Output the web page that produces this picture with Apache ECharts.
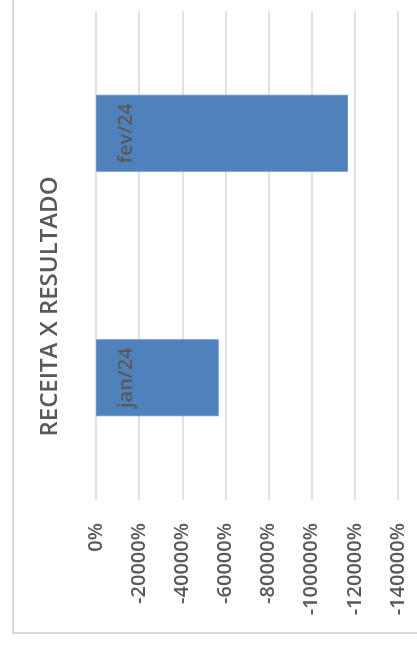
<!DOCTYPE html>
<html>
<head>
<meta charset="utf-8">
<script src="https://cdn.jsdelivr.net/npm/echarts@6/dist/echarts.min.js"></script>
<style>
html,body{margin:0;padding:0;background:#fff;}
#c{width:417px;height:647px;}
</style>
</head>
<body>
<div id="c"></div>
<script>
const categories = ['jan/24', 'fev/24'];
const values = [-56900, -116800];
const axisMin = -140000;
const axisMax = 0;
const axisStep = 20000;
const titleText = 'RECEITA X RESULTADO';

const chart = echarts.init(document.getElementById('c'), null, {renderer: 'canvas'});
chart.setOption({
  backgroundColor: '#ffffff',
  animation: false,
  grid: {left: 96, right: 19, top: 11, bottom: 147, containLabel: false},
  xAxis: {
    type: 'value',
    inverse: true,
    min: axisMin,
    max: axisMax,
    interval: axisStep,
    axisLine: {show: false},
    axisTick: {show: false},
    splitLine: {show: true, lineStyle: {color: '#d9d9d9', width: 1.5}},
    axisLabel: {
      rotate: 90,
      margin: 23,
      color: '#595959',
      fontFamily: 'Open Sans',
      fontWeight: 600,
      fontSize: 20,
      formatter: v => v + '%'
    }
  },
  yAxis: {
    type: 'category',
    data: categories,
    axisLine: {show: false},
    axisTick: {show: false},
    axisLabel: {show: false},
    splitLine: {show: false}
  },
  series: [{
    type: 'bar',
    data: values,
    barWidth: 77,
    itemStyle: {color: '#4f81bd', borderColor: '#6a93c7', borderWidth: 1},
    label: {
      show: true,
      formatter: '{b}',
      rotate: 90,
      position: [30, '50%'],
      align: 'center',
      verticalAlign: 'middle',
      color: '#595959',
      fontFamily: 'Open Sans',
      fontWeight: 600,
      fontSize: 20
    }
  }],
  graphic: [
    {
      type: 'rect',
      shape: {x: 13, y: -10, width: 430, height: 643},
      style: {fill: 'none', stroke: '#d9d9d9', lineWidth: 2},
      silent: true
    },
    {
      type: 'text',
      x: 50.5,
      y: 306.5,
      rotation: Math.PI / 2,
      style: {
        text: titleText,
        fill: '#595959',
        font: '600 24px "Open Sans"',
        textAlign: 'center',
        textVerticalAlign: 'middle'
      }
    }
  ]
});
</script>
</body>
</html>
